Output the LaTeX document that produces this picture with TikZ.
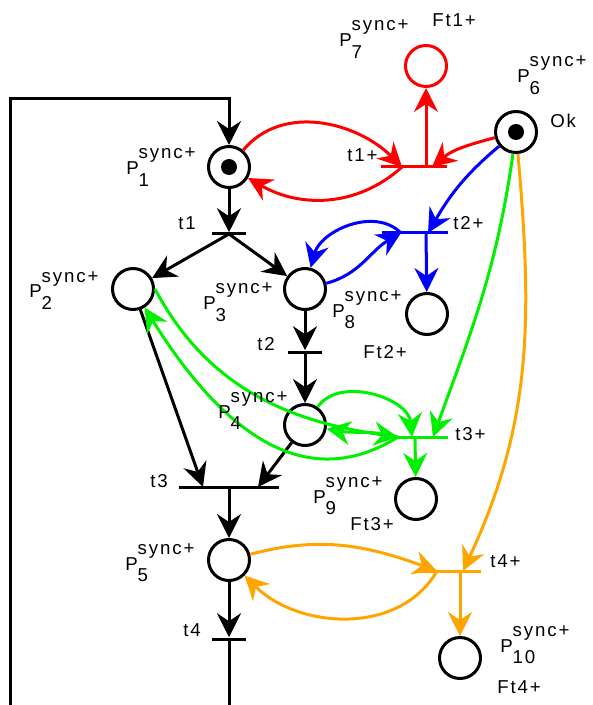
\documentclass[tikz,border=0pt]{standalone}
\usepackage{fontspec}
\setmainfont{Liberation Sans}[LetterSpace=10]
\usetikzlibrary{arrows.meta}
\definecolor{arcred}{RGB}{255,0,0}
\definecolor{arcblue}{RGB}{0,0,255}
\definecolor{arcgreen}{RGB}{0,240,0}
\definecolor{arcorange}{RGB}{255,165,0}
\newcommand{\plab}[1]{P\rlap{\raisebox{-8.5pt}{#1}}\raisebox{12pt}{sync+}}
\tikzset{
  place/.style={
    circle, draw=black, line width=2.25pt, fill=white, inner sep=0pt, minimum size=30.75pt
  },
  token place/.style={
    place,
    path picture={
      \fill[black] (path picture bounding box.center) circle (6pt);
    }
  },
  tbar/.style={
    rectangle, fill=black, inner sep=0pt, minimum height=2.25pt
  },
  flow/.style={
    line width=2.25pt, -{Stealth[length=18pt,width=18pt,inset=6pt]}
  },
  lab/.style={
    inner sep=0pt, anchor=base west, font=\fontsize{14}{16}\selectfont
  }
}
\begin{document}
\begin{tikzpicture}[x=0.75pt,y=-0.75pt]
\useasboundingbox (0,0) rectangle (592,705);
% ------------------------------------------------
% 库所
% ------------------------------------------------
\node[token place]           (P1)  at (229,167) {};
\node[place]                 (P2)  at (133,289) {};
\node[place]                 (P3)  at (305,289) {};
\node[place]                 (P4)  at (305,425) {};
\node[place]                 (P5)  at (229,560) {};
\node[token place]           (P6)  at (516,132) {};
\node[place, draw=arcred]    (P7)  at (426,66)  {};
\node[place]                 (P8)  at (427,314) {};
\node[place]                 (P9)  at (416,499) {};
\node[place]                 (P10) at (460,658) {};

% ------------------------------------------------
% 变迁
% ------------------------------------------------
\node[tbar, minimum width=25.5pt]               (t1)  at (229,234) {};
\node[tbar, minimum width=25.5pt]               (t2)  at (305,352) {};
\node[tbar, minimum width=75pt]                 (t3)  at (229,487) {};
\node[tbar, minimum width=25.5pt]               (t4)  at (229,639) {};
\node[tbar, minimum width=50pt, fill=arcred]    (t1p) at (414,167) {};
\node[tbar, minimum width=49.5pt, fill=arcblue] (t2p) at (415,233) {};
\node[tbar, minimum width=37.5pt, fill=arcgreen](t3p) at (423,437) {};
\node[tbar, minimum width=50pt, fill=arcorange] (t4p) at (448,571) {};

% 变迁上的连接点
\coordinate (t1pA) at (402,167);
\coordinate (t1pB) at (432,167);
\coordinate (t1pC) at (426,167);
\coordinate (t2pA) at (401,233);
\coordinate (t2pB) at (428,233);
\coordinate (t2pC) at (426,233);
\coordinate (t3pA) at (398,437);
\coordinate (t3pB) at (412,437);
\coordinate (t3pC) at (433,437);
\coordinate (t3pD) at (415,437);
\coordinate (t4pA) at (437,571);
\coordinate (t4pB) at (463,571);
\coordinate (t4pC) at (460,571);
\coordinate (t3L)  at (203,487);
\coordinate (t3R)  at (258,487);
\coordinate (loopBL) at (10,705);
\coordinate (loopTR) at (229,99);
\coordinate (t4end)  at (229,705);

% ------------------------------------------------
% 主流程（黑）
% ------------------------------------------------
\draw[flow] (loopBL) |- (loopTR) -- (P1);
\draw[flow] (P1) -- (t1);
\draw[flow] (t1.center) -- (P2);
\draw[flow] (t1.center) -- (P3);
\draw[flow] (P3) -- (t2);
\draw[flow] (t2.center) -- (P4);
\draw[flow] (P2) -- (t3L);
\draw[flow] (P4) -- (t3R);
\draw[flow] (t3.center) -- (P5);
\draw[flow] (P5) -- (t4);
\draw[line width=2.25pt] (t4) -- (t4end);

% ------------------------------------------------
% t1+（红）
% ------------------------------------------------
\draw[flow, arcred] (P1) to[out=50, in=135] (t1pA);
\draw[flow, arcred] (t1pA) to[out=222, in=-30] (P1);
\draw[flow, arcred] (P6) to[out=195, in=40] (t1pB);
\draw[flow, arcred] (t1pC) -- (P7);

% ------------------------------------------------
% t2+（蓝）
% ------------------------------------------------
\draw[flow, arcblue] (P6) to[out=220, in=60] (t2pB);
\draw[flow, arcblue] (t2pA) to[out=135, in=75] (P3);
\draw[flow, arcblue] (P3) to[out=15, in=210] (t2pA);
\draw[flow, arcblue] (t2pC) -- (P8);

% ------------------------------------------------
% t3+（绿）
% ------------------------------------------------
\draw[flow, arcgreen] (P6) to[out=-98, in=70] (t3pC);
\draw[flow, arcgreen] (P4) to[out=55, in=95] (t3pB);
\draw[flow, arcgreen] (t3pA) to[out=165, in=-10] (P4);
\draw[flow, arcgreen] (P2.east) to[out=-62, in=172] (t3pA);
\draw[flow, arcgreen] (t3pA) to[out=212, in=-58, looseness=1.1] (P2);
\draw[flow, arcgreen] (t3pD) -- (P9);

% ------------------------------------------------
% t4+（橙）
% ------------------------------------------------
\draw[flow, arcorange] (P6) to[out=-85, in=65] (t4pB);
\draw[flow, arcorange] (P5) to[out=15, in=160] (t4pA);
\draw[flow, arcorange] (t4pA) to[out=240, in=-45] (P5);
\draw[flow, arcorange] (t4pC) -- (P10);

% ------------------------------------------------
% 标注
% ------------------------------------------------
\node[lab] (lP1)  at (126,175) {\plab{1}};
\node[lab] (lP2)  at (29,298)  {\plab{2}};
\node[lab] (lP3)  at (203,310) {\plab{3}};
\node[lab] (lP4)  at (218,418) {\plab{4}};
\node[lab] (lP5)  at (125,570) {\plab{5}};
\node[lab] (lP6)  at (517,83)  {\plab{6}};
\node[lab] (lP7)  at (339,47)  {\plab{7}};
\node[lab] (lP8)  at (332,317) {\plab{8}};
\node[lab] (lP9)  at (313,503) {\plab{9}};
\node[lab] (lP10) at (500,652) {\plab{10}};
\node[lab] (lt1)  at (178,230) {t1};
\node[lab] (lt2)  at (257,350) {t2};
\node[lab] (lt3)  at (150,487) {t3};
\node[lab] (lt4)  at (183,636) {t4};
\node[lab] (lt1p) at (347,162) {t1+};
\node[lab] (lt2p) at (453,230) {t2+};
\node[lab] (lt3p) at (455,440) {t3+};
\node[lab] (lt4p) at (490,567) {t4+};
\node[lab] (lF1)  at (432,27)  {Ft1+};
\node[lab] (lF2)  at (363,358) {Ft2+};
\node[lab] (lF3)  at (350,530) {Ft3+};
\node[lab] (lF4)  at (497,693) {Ft4+};
\node[lab] (lOk)  at (550,128) {Ok};
\end{tikzpicture}
\end{document}
